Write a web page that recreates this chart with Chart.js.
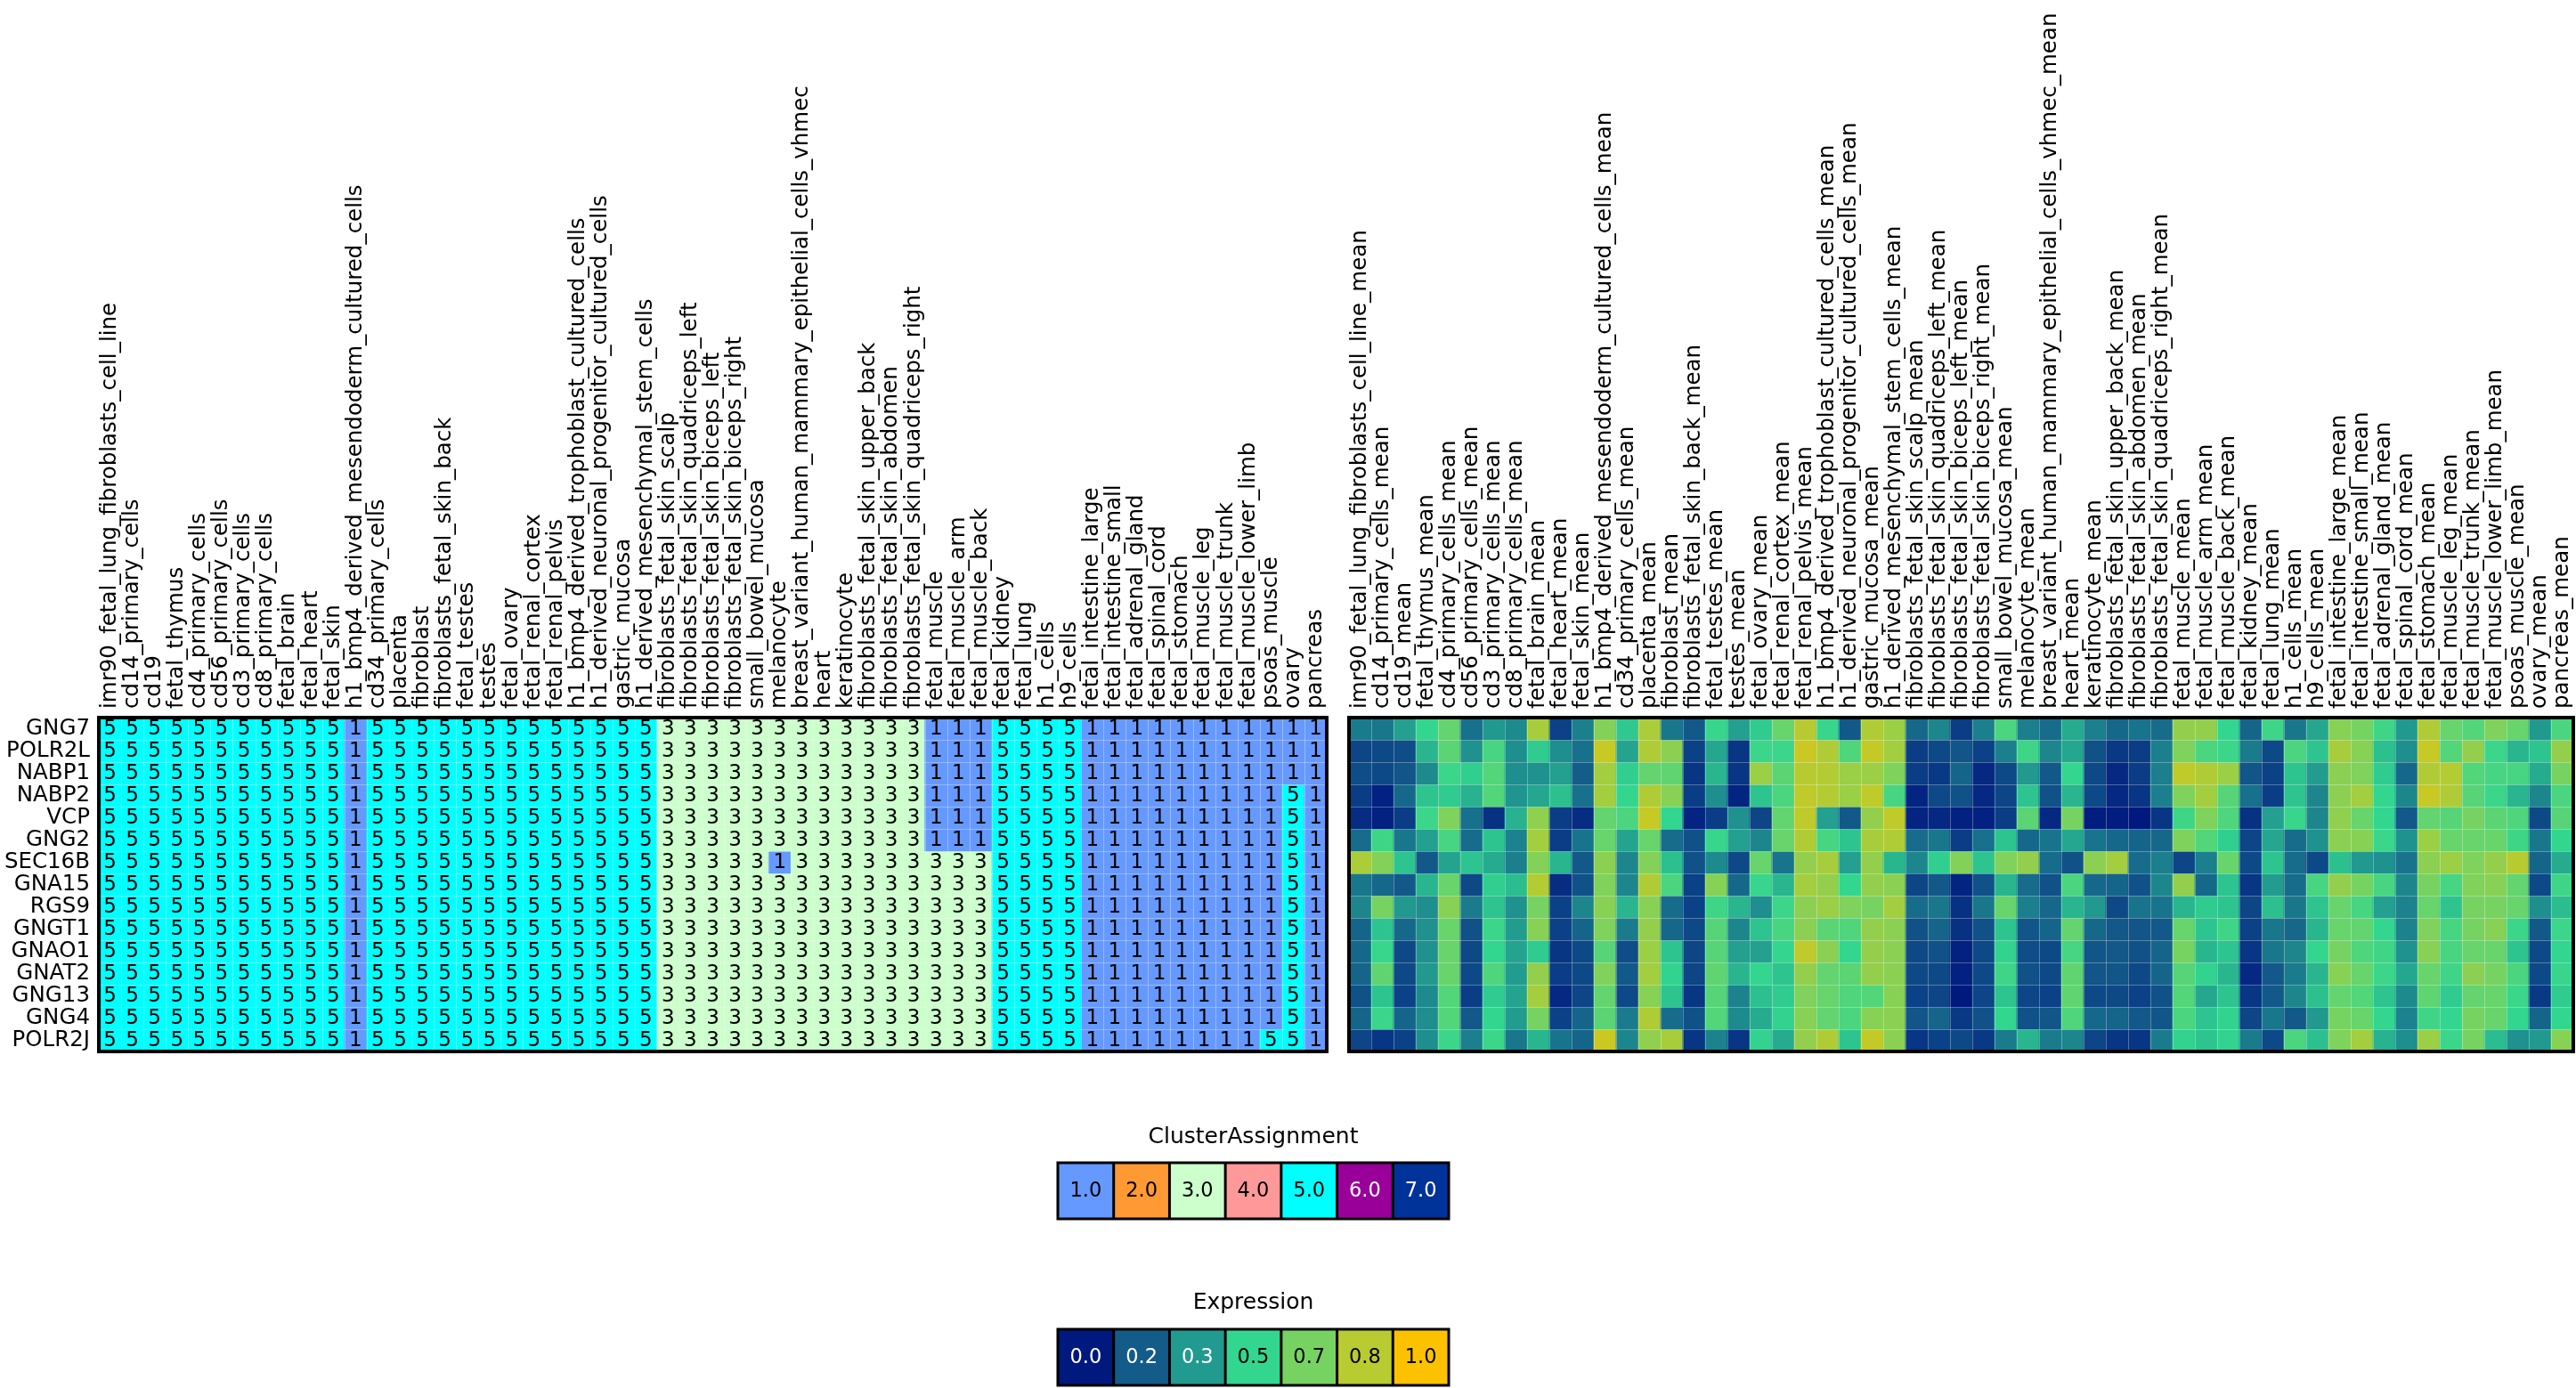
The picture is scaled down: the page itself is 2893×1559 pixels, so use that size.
<!DOCTYPE html>
<html>
<head>
<meta charset="utf-8">
<script src="https://cdn.jsdelivr.net/npm/chart.js"></script>
<style>
html,body{margin:0;padding:0;background:#fff;width:2893px;height:1559px;overflow:hidden;}
canvas{position:absolute;}
</style>
</head>
<body>
<canvas id="clusterMap" width="1503" height="1190" style="left:0;top:0"></canvas>
<canvas id="exprMap" width="1390" height="1190" style="left:1503px;top:0"></canvas>
<canvas id="clusterLegend" width="520" height="130" style="left:1150px;top:1245px"></canvas>
<canvas id="exprLegend" width="520" height="129" style="left:1150px;top:1430px"></canvas>
<script>
// ---------------- DATA ----------------
const genes = ['GNG7','POLR2L','NABP1','NABP2','VCP','GNG2','SEC16B','GNA15','RGS9','GNGT1','GNAO1','GNAT2','GNG13','GNG4','POLR2J'];

const tissues = [
 'imr90_fetal_lung_fibroblasts_cell_line','cd14_primary_cells','cd19','fetal_thymus','cd4_primary_cells',
 'cd56_primary_cells','cd3_primary_cells','cd8_primary_cells','fetal_brain','fetal_heart','fetal_skin',
 'h1_bmp4_derived_mesendoderm_cultured_cells','cd34_primary_cells','placenta','fibroblast',
 'fibroblasts_fetal_skin_back','fetal_testes','testes','fetal_ovary','fetal_renal_cortex','fetal_renal_pelvis',
 'h1_bmp4_derived_trophoblast_cultured_cells','h1_derived_neuronal_progenitor_cultured_cells','gastric_mucosa',
 'h1_derived_mesenchymal_stem_cells','fibroblasts_fetal_skin_scalp','fibroblasts_fetal_skin_quadriceps_left',
 'fibroblasts_fetal_skin_biceps_left','fibroblasts_fetal_skin_biceps_right','small_bowel_mucosa','melanocyte',
 'breast_variant_human_mammary_epithelial_cells_vhmec','heart','keratinocyte','fibroblasts_fetal_skin_upper_back',
 'fibroblasts_fetal_skin_abdomen','fibroblasts_fetal_skin_quadriceps_right','fetal_muscle','fetal_muscle_arm',
 'fetal_muscle_back','fetal_kidney','fetal_lung','h1_cells','h9_cells','fetal_intestine_large',
 'fetal_intestine_small','fetal_adrenal_gland','fetal_spinal_cord','fetal_stomach','fetal_muscle_leg',
 'fetal_muscle_trunk','fetal_muscle_lower_limb','psoas_muscle','ovary','pancreas'];

const meanLabels = tissues.map(t => t + '_mean');

// cluster assignment per gene (rows) x tissue (columns)
const clusterValues = [
 [5,5,5,5,5,5,5,5,5,5,5,1,5,5,5,5,5,5,5,5,5,5,5,5,5,3,3,3,3,3,3,3,3,3,3,3,3,1,1,1,5,5,5,5,1,1,1,1,1,1,1,1,1,1,1], // GNG7
 [5,5,5,5,5,5,5,5,5,5,5,1,5,5,5,5,5,5,5,5,5,5,5,5,5,3,3,3,3,3,3,3,3,3,3,3,3,1,1,1,5,5,5,5,1,1,1,1,1,1,1,1,1,1,1], // POLR2L
 [5,5,5,5,5,5,5,5,5,5,5,1,5,5,5,5,5,5,5,5,5,5,5,5,5,3,3,3,3,3,3,3,3,3,3,3,3,1,1,1,5,5,5,5,1,1,1,1,1,1,1,1,1,1,1], // NABP1
 [5,5,5,5,5,5,5,5,5,5,5,1,5,5,5,5,5,5,5,5,5,5,5,5,5,3,3,3,3,3,3,3,3,3,3,3,3,1,1,1,5,5,5,5,1,1,1,1,1,1,1,1,1,5,1], // NABP2
 [5,5,5,5,5,5,5,5,5,5,5,1,5,5,5,5,5,5,5,5,5,5,5,5,5,3,3,3,3,3,3,3,3,3,3,3,3,1,1,1,5,5,5,5,1,1,1,1,1,1,1,1,1,5,1], // VCP
 [5,5,5,5,5,5,5,5,5,5,5,1,5,5,5,5,5,5,5,5,5,5,5,5,5,3,3,3,3,3,3,3,3,3,3,3,3,1,1,1,5,5,5,5,1,1,1,1,1,1,1,1,1,5,1], // GNG2
 [5,5,5,5,5,5,5,5,5,5,5,1,5,5,5,5,5,5,5,5,5,5,5,5,5,3,3,3,3,3,1,3,3,3,3,3,3,3,3,3,5,5,5,5,1,1,1,1,1,1,1,1,1,5,1], // SEC16B
 [5,5,5,5,5,5,5,5,5,5,5,1,5,5,5,5,5,5,5,5,5,5,5,5,5,3,3,3,3,3,3,3,3,3,3,3,3,3,3,3,5,5,5,5,1,1,1,1,1,1,1,1,1,5,1], // GNA15
 [5,5,5,5,5,5,5,5,5,5,5,1,5,5,5,5,5,5,5,5,5,5,5,5,5,3,3,3,3,3,3,3,3,3,3,3,3,3,3,3,5,5,5,5,1,1,1,1,1,1,1,1,1,5,1], // RGS9
 [5,5,5,5,5,5,5,5,5,5,5,1,5,5,5,5,5,5,5,5,5,5,5,5,5,3,3,3,3,3,3,3,3,3,3,3,3,3,3,3,5,5,5,5,1,1,1,1,1,1,1,1,1,5,1], // GNGT1
 [5,5,5,5,5,5,5,5,5,5,5,1,5,5,5,5,5,5,5,5,5,5,5,5,5,3,3,3,3,3,3,3,3,3,3,3,3,3,3,3,5,5,5,5,1,1,1,1,1,1,1,1,1,5,1], // GNAO1
 [5,5,5,5,5,5,5,5,5,5,5,1,5,5,5,5,5,5,5,5,5,5,5,5,5,3,3,3,3,3,3,3,3,3,3,3,3,3,3,3,5,5,5,5,1,1,1,1,1,1,1,1,1,5,1], // GNAT2
 [5,5,5,5,5,5,5,5,5,5,5,1,5,5,5,5,5,5,5,5,5,5,5,5,5,3,3,3,3,3,3,3,3,3,3,3,3,3,3,3,5,5,5,5,1,1,1,1,1,1,1,1,1,5,1], // GNG13
 [5,5,5,5,5,5,5,5,5,5,5,1,5,5,5,5,5,5,5,5,5,5,5,5,5,3,3,3,3,3,3,3,3,3,3,3,3,3,3,3,5,5,5,5,1,1,1,1,1,1,1,1,1,5,1], // GNG4
 [5,5,5,5,5,5,5,5,5,5,5,1,5,5,5,5,5,5,5,5,5,5,5,5,5,3,3,3,3,3,3,3,3,3,3,3,3,3,3,3,5,5,5,5,1,1,1,1,1,1,1,1,5,5,1]  // POLR2J
];

// mean expression per gene (rows) x tissue (columns)
const exprValues = [
 [.25,.24,.35,.50,.62,.22,.33,.29,.79,.10,.26,.70,.46,.80,.24,.16,.51,.35,.47,.63,.83,.51,.16,.81,.76,.20,.28,.09,.26,.56,.26,.21,.38,.26,.20,.23,.21,.74,.74,.50,.19,.53,.24,.37,.71,.67,.53,.33,.81,.63,.58,.69,.63,.33,.56],
 [.11,.12,.13,.41,.60,.31,.55,.30,.47,.30,.22,.87,.36,.81,.72,.10,.37,.07,.52,.52,.88,.81,.57,.86,.78,.09,.12,.15,.10,.26,.53,.28,.37,.14,.08,.09,.26,.69,.56,.52,.25,.12,.56,.45,.79,.71,.44,.30,.87,.58,.74,.52,.41,.45,.74],
 [.13,.12,.15,.29,.52,.48,.58,.30,.31,.35,.17,.78,.48,.62,.61,.07,.41,.07,.76,.60,.83,.82,.76,.76,.69,.09,.08,.19,.04,.12,.33,.16,.50,.12,.04,.09,.26,.85,.81,.76,.15,.10,.45,.34,.72,.69,.47,.20,.81,.82,.58,.55,.55,.38,.67],
 [.09,.02,.20,.45,.47,.40,.58,.32,.37,.44,.22,.78,.50,.81,.71,.09,.30,.03,.45,.56,.85,.82,.76,.85,.55,.03,.12,.14,.04,.11,.45,.14,.41,.12,.04,.07,.26,.69,.78,.59,.22,.09,.45,.28,.72,.78,.50,.28,.87,.81,.59,.52,.41,.28,.56],
 [.05,.02,.09,.52,.69,.22,.06,.40,.73,.09,.05,.62,.56,.87,.50,.03,.09,.31,.11,.62,.85,.35,.16,.74,.85,.03,.04,.02,.02,.09,.60,.04,.67,.01,.01,.00,.07,.53,.69,.57,.06,.35,.51,.28,.73,.63,.50,.16,.62,.59,.67,.60,.57,.12,.59],
 [.21,.53,.24,.35,.55,.21,.45,.27,.78,.09,.23,.63,.36,.63,.21,.14,.51,.35,.28,.63,.81,.55,.45,.79,.81,.21,.24,.09,.22,.45,.20,.23,.37,.23,.20,.19,.20,.69,.58,.48,.11,.37,.21,.31,.72,.71,.52,.31,.76,.63,.63,.63,.53,.24,.50],
 [.80,.70,.45,.16,.36,.45,.38,.26,.70,.41,.16,.72,.28,.70,.44,.14,.29,.12,.63,.23,.74,.79,.35,.74,.41,.28,.48,.70,.45,.69,.74,.21,.14,.72,.78,.21,.26,.11,.26,.63,.12,.45,.21,.12,.44,.33,.31,.23,.72,.76,.69,.74,.83,.19,.38],
 [.24,.20,.16,.41,.63,.12,.48,.43,.82,.05,.14,.69,.28,.81,.56,.10,.71,.20,.51,.41,.78,.74,.50,.74,.72,.11,.16,.03,.14,.41,.21,.14,.56,.20,.19,.14,.28,.74,.20,.45,.07,.34,.21,.55,.74,.67,.55,.28,.67,.55,.69,.71,.62,.12,.53],
 [.28,.67,.33,.30,.71,.25,.45,.31,.67,.10,.28,.71,.41,.71,.21,.10,.53,.41,.30,.52,.72,.76,.69,.67,.78,.21,.24,.06,.24,.63,.26,.20,.41,.33,.12,.23,.23,.41,.47,.45,.11,.44,.24,.45,.63,.55,.35,.27,.63,.45,.67,.67,.63,.30,.43],
 [.19,.45,.20,.31,.63,.14,.52,.34,.71,.10,.19,.69,.25,.74,.20,.12,.59,.28,.45,.55,.72,.60,.57,.74,.72,.14,.19,.06,.14,.45,.15,.19,.62,.20,.16,.15,.16,.63,.45,.53,.10,.24,.20,.41,.63,.62,.50,.27,.69,.55,.67,.71,.52,.16,.52],
 [.20,.51,.12,.31,.63,.12,.50,.36,.47,.07,.12,.59,.13,.76,.45,.11,.59,.35,.35,.50,.85,.72,.50,.74,.72,.12,.14,.02,.12,.49,.13,.12,.55,.15,.16,.14,.19,.67,.41,.45,.07,.24,.28,.50,.67,.57,.53,.31,.71,.55,.63,.63,.45,.12,.50],
 [.19,.61,.12,.33,.63,.12,.57,.34,.74,.09,.12,.69,.16,.78,.49,.11,.61,.41,.50,.45,.74,.62,.60,.74,.72,.12,.12,.02,.12,.53,.14,.12,.61,.15,.15,.12,.19,.59,.49,.41,.04,.16,.25,.41,.71,.63,.52,.37,.63,.53,.72,.67,.56,.12,.51],
 [.14,.45,.10,.29,.58,.09,.47,.36,.78,.04,.11,.62,.12,.71,.45,.07,.59,.27,.44,.47,.69,.63,.57,.58,.71,.10,.11,.00,.11,.45,.11,.10,.61,.12,.12,.10,.14,.58,.37,.45,.07,.16,.28,.44,.62,.58,.45,.29,.61,.47,.62,.63,.52,.08,.47],
 [.19,.52,.19,.30,.58,.16,.50,.34,.67,.10,.19,.60,.25,.81,.21,.14,.58,.29,.38,.49,.71,.62,.56,.71,.72,.15,.19,.08,.14,.50,.14,.15,.57,.20,.19,.16,.15,.56,.45,.49,.11,.24,.16,.33,.67,.63,.50,.27,.53,.50,.67,.63,.50,.19,.50],
 [.11,.07,.10,.30,.52,.26,.52,.24,.41,.23,.19,.88,.28,.73,.79,.07,.27,.07,.49,.38,.74,.81,.45,.86,.72,.07,.10,.12,.08,.25,.41,.25,.28,.11,.07,.07,.25,.49,.45,.49,.25,.12,.56,.44,.69,.78,.40,.30,.76,.52,.67,.43,.31,.33,.71]
];

const clusterLevels = [1, 2, 3, 4, 5, 6, 7];
const clusterLegendLabels = ['1.0','2.0','3.0','4.0','5.0','6.0','7.0'];
const exprLegendLevels = [0.0, 0.1667, 0.3333, 0.5, 0.6667, 0.8333, 1.0];
const exprLegendLabels = ['0.0','0.2','0.3','0.5','0.7','0.8','1.0'];

// ---------------- STYLE ----------------
const clusterPalette = {1:'#6699ff', 2:'#ff9933', 3:'#ccffcc', 4:'#ff9999', 5:'#00ffff', 6:'#990099', 7:'#003399'};
const exprStops = [[0,25,127],[19,92,138],[33,154,143],[51,214,143],[118,211,98],[184,203,48],[252,194,0]];
function exprColor(v){
  v = Math.max(0, Math.min(1, v));
  const t = v * (exprStops.length - 1);
  const i = Math.min(exprStops.length - 2, Math.floor(t));
  const f = t - i, a = exprStops[i], b = exprStops[i+1];
  const c = a.map((av, k) => Math.round(av + (b[k] - av) * f));
  return `rgb(${c[0]},${c[1]},${c[2]})`;
}
function brightness(col){
  let r, g, b;
  if (col[0] === '#') { r = parseInt(col.substr(1,2),16); g = parseInt(col.substr(3,2),16); b = parseInt(col.substr(5,2),16); }
  else { [r, g, b] = col.match(/\d+/g).map(Number); }
  return 0.299*r + 0.587*g + 0.114*b;
}

const FONT = "'DejaVu Sans', sans-serif";
Chart.defaults.font.family = FONT;
Chart.defaults.color = '#000';
Chart.defaults.animation = false;

// ---------------- PLUGINS ----------------
const cellTextPlugin = {
  id: 'cellText',
  afterDatasetsDraw(chart, args, opts) {
    if (!opts || !opts.values) return;
    const ctx = chart.ctx;
    ctx.save();
    ctx.font = `23px ${FONT}`;
    ctx.fillStyle = '#000';
    ctx.textAlign = 'center';
    ctx.textBaseline = 'middle';
    chart.data.datasets.forEach((ds, d) => {
      chart.getDatasetMeta(d).data.forEach((bar, i) => {
        const c = bar.getCenterPoint();
        ctx.fillText(String(opts.values[d][i]), c.x, c.y + 1);
      });
    });
    ctx.restore();
  }
};

const gridFramePlugin = {
  id: 'gridFrame',
  afterDatasetsDraw(chart) {
    const {ctx, chartArea: a, scales: {x, y}} = chart;
    const nCols = chart.data.labels.length, nRows = chart.data.datasets.length;
    const half = (x.getPixelForValue(1) - x.getPixelForValue(0)) / 2;
    ctx.save();
    ctx.strokeStyle = 'rgba(255,255,255,0.3)';
    ctx.lineWidth = 1;
    ctx.beginPath();
    for (let i = 1; i < nCols; i++) { const px = Math.round(x.getPixelForValue(i) - half) + 0.5; ctx.moveTo(px, a.top); ctx.lineTo(px, a.bottom); }
    for (let r = 1; r < nRows; r++) { const py = Math.round(y.getPixelForValue(r)) + 0.5; ctx.moveTo(a.left, py); ctx.lineTo(a.right, py); }
    ctx.stroke();
    ctx.strokeStyle = '#000';
    ctx.lineWidth = 4;
    ctx.strokeRect(a.left, a.top, a.right - a.left, a.bottom - a.top);
    ctx.restore();
  }
};

const colLabelPlugin = {
  id: 'colLabels',
  afterDraw(chart) {
    const {ctx, chartArea: a, scales: {x}} = chart;
    ctx.save();
    ctx.font = `24.5px ${FONT}`;
    ctx.fillStyle = '#000';
    ctx.textAlign = 'left';
    ctx.textBaseline = 'middle';
    chart.data.labels.forEach((lab, i) => {
      ctx.save();
      ctx.translate(x.getPixelForValue(i), a.top - 10);
      ctx.rotate(-Math.PI / 2);
      ctx.fillText(lab, 0, 0);
      ctx.restore();
    });
    ctx.restore();
  }
};

const legendCellsPlugin = {
  id: 'legendCells',
  afterDatasetsDraw(chart) {
    const {ctx, chartArea: a} = chart;
    const meta = chart.getDatasetMeta(0);
    const ds = chart.data.datasets[0];
    ctx.save();
    ctx.font = `22.5px ${FONT}`;
    ctx.textAlign = 'center';
    ctx.textBaseline = 'middle';
    meta.data.forEach((bar, i) => {
      const c = bar.getCenterPoint();
      ctx.fillStyle = brightness(ds.backgroundColor[i]) < 130 ? '#fff' : '#000';
      ctx.fillText(chart.data.labels[i], c.x, c.y + 1);
    });
    ctx.strokeStyle = '#000';
    ctx.lineWidth = 3;
    ctx.beginPath();
    meta.data.forEach((bar, i) => {
      if (i > 0) { const px = bar.x - bar.width / 2; ctx.moveTo(px, a.top); ctx.lineTo(px, a.bottom); }
    });
    ctx.stroke();
    ctx.strokeRect(a.left, a.top, a.right - a.left, a.bottom - a.top);
    ctx.restore();
  }
};

// ---------------- CHARTS ----------------
function heatmap(id, colLabels, matrix, colorFn, showRows, padding, textValues) {
  const datasets = matrix.map((row, r) => ({
    label: genes[r],
    data: row.map(() => 1),
    backgroundColor: row.map(colorFn),
    borderWidth: 0,
    barPercentage: 1,
    categoryPercentage: 1,
    stack: 'cells'
  }));
  return new Chart(document.getElementById(id), {
    type: 'bar',
    data: { labels: colLabels, datasets },
    options: {
      responsive: false,
      animation: false,
      events: [],
      layout: { padding },
      plugins: {
        legend: { display: false },
        tooltip: { enabled: false },
        title: { display: false },
        cellText: { values: textValues }
      },
      scales: {
        x: { type: 'category', stacked: true, display: false, offset: true },
        y: {
          type: 'linear', stacked: true, min: 0, max: genes.length, reverse: true,
          display: showRows,
          afterBuildTicks: s => { s.ticks = genes.map((g, i) => ({ value: i + 0.5 })); },
          afterFit: s => { s.width = showRows ? 111 : 0; s.paddingTop = 0; s.paddingBottom = 0; },
          ticks: { callback: (v, i) => genes[i], font: { size: 24.5 }, padding: 10, autoSkip: false, color: '#000' },
          grid: { display: false, drawTicks: false },
          border: { display: false }
        }
      }
    },
    plugins: [cellTextPlugin, gridFramePlugin, colLabelPlugin]
  });
}

heatmap('clusterMap', tissues, clusterValues, v => clusterPalette[v], true,
        { left: 0, right: 13, top: 806, bottom: 9 }, clusterValues);
heatmap('exprMap', meanLabels, exprValues, exprColor, false,
        { left: 12, right: 3, top: 806, bottom: 9 }, null);

function legendChart(id, title, labels, colors, padding, titlePad) {
  return new Chart(document.getElementById(id), {
    type: 'bar',
    data: { labels, datasets: [{ data: labels.map(() => 1), backgroundColor: colors, borderWidth: 0, barPercentage: 1, categoryPercentage: 1 }] },
    options: {
      responsive: false,
      animation: false,
      events: [],
      layout: { padding },
      plugins: {
        legend: { display: false },
        tooltip: { enabled: false },
        title: { display: true, text: title, color: '#000', font: { size: 25, weight: 'normal', lineHeight: 1.2 }, padding: titlePad }
      },
      scales: { x: { display: false, offset: true }, y: { display: false, min: 0, max: 1 } }
    },
    plugins: [legendCellsPlugin]
  });
}

legendChart('clusterLegend', 'ClusterAssignment', clusterLegendLabels, clusterLevels.map(v => clusterPalette[v]),
            { left: 38, right: 43, top: 0, bottom: 6 }, { top: 17, bottom: 14 });
legendChart('exprLegend', 'Expression', exprLegendLabels, exprLegendLevels.map(exprColor),
            { left: 38, right: 43, top: 0, bottom: 3 }, { top: 18, bottom: 15 });
</script>
</body>
</html>
